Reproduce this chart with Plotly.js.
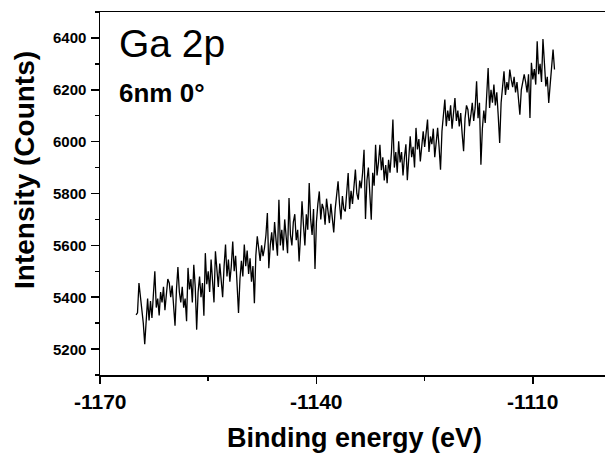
<!DOCTYPE html>
<html>
<head>
<meta charset="utf-8">
<script src="https://cdn.plot.ly/plotly-3.0.1.min.js"></script>
<style>html,body{margin:0;padding:0;background:#fff;}#chart{width:605px;height:459px;}</style>
</head>
<body>
<div id="chart"></div>
<script>
// Binding energy grid: starts at -1165 eV, 0.2 eV step (291 points)
const X_START = -1165;
const X_STEP = 0.2;

// Intensity (counts)
const intensity = [
  5332, 5340, 5455, 5403, 5370, 5300, 5219, 5330, 5395, 5310,
  5385, 5320, 5410, 5500, 5360, 5395, 5330, 5420, 5380, 5440,
  5350, 5420, 5470, 5455, 5400, 5445, 5360, 5290, 5430, 5516,
  5420, 5380, 5440, 5360, 5395, 5307, 5513, 5430, 5470, 5380,
  5525, 5440, 5275, 5420, 5480, 5400, 5455, 5329, 5570, 5450,
  5500, 5420, 5545, 5470, 5380, 5577, 5490, 5440, 5530, 5470,
  5400, 5520, 5603, 5480, 5545, 5460, 5520, 5615, 5500, 5560,
  5450, 5339, 5470, 5540, 5480, 5603, 5520, 5580, 5490, 5550,
  5460, 5520, 5377, 5560, 5635, 5580, 5540, 5600, 5558, 5590,
  5640, 5725, 5512, 5600, 5650, 5580, 5690, 5620, 5560, 5776,
  5600, 5660, 5580, 5700, 5630, 5570, 5783, 5640, 5600, 5690,
  5720, 5620, 5660, 5538, 5640, 5770, 5680, 5600, 5720, 5660,
  5840, 5700, 5640, 5740, 5509, 5690, 5760, 5808, 5700, 5760,
  5740, 5680, 5780, 5720, 5686, 5760, 5700, 5650, 5740, 5790,
  5847, 5760, 5700, 5790, 5740, 5731, 5800, 5879, 5740, 5810,
  5760, 5840, 5892, 5800, 5776, 5850, 5820, 5880, 5969, 5702,
  5850, 5900, 5820, 5699, 5880, 5830, 5988, 5870, 5920, 5988,
  5890, 5940, 5850, 5910, 5840, 5930, 5880, 5960, 6085, 5900,
  5960, 5880, 6001, 5920, 5960, 5870, 5940, 5990, 5851, 5920,
  6021, 5940, 5980, 5900, 6053, 5970, 6010, 5924, 5990, 6040,
  5980, 6030, 6085, 5960, 6020, 5990, 6050, 5940, 6010, 6053,
  5980, 5892, 6040, 6110, 6162, 6060, 6120, 6080, 6140, 6050,
  6100, 6168, 6080, 6120, 6059, 6110, 6030, 5963, 6090, 6140,
  6123, 6060, 6100, 6150, 6080, 6130, 6233, 6090, 6150, 5911,
  6050, 6120, 6072, 6160, 6284, 6130, 6200, 6150, 6220, 6140,
  6190, 6100, 5995, 6150, 6210, 6271, 6180, 6230, 6200, 6278,
  6240, 6210, 6250, 6190, 6230, 6170, 6104, 6200, 6230, 6259,
  6230, 6190, 6260, 6091, 6304, 6240, 6280, 6220, 6387, 6260,
  6300, 6230, 6396, 6290, 6213, 6250, 6149, 6220, 6280, 6355,
  6278
];

const xTickVals = [-1170, -1140, -1110];
const xTickText = ['-1170', '-1140', '-1110'];
const yTickVals = [5200, 5400, 5600, 5800, 6000, 6200, 6400];
const yTickText = ['5200', '5400', '5600', '5800', '6000', '6200', '6400'];

const FONT = 'Arial, Liberation Sans, Helvetica, sans-serif';

const trace = {
  type: 'scatter',
  mode: 'lines',
  x0: X_START,
  dx: X_STEP,
  y: intensity,
  line: {color: '#000000', width: 1.3},
  hoverinfo: 'skip'
};

// bold tick labels, placed on the axes' own tick values
const xTickLabels = xTickVals.map((v, i) => ({
  text: '<b>' + xTickText[i] + '</b>', xref: 'x', yref: 'paper',
  x: v, y: -0.072, xanchor: 'center', yanchor: 'middle', showarrow: false,
  font: {family: FONT, size: 21, color: '#000'}
}));
const yTickLabels = yTickVals.map((v, i) => ({
  text: '<b>' + yTickText[i] + '</b>', xref: 'paper', yref: 'y',
  x: -0.0228, y: v, xanchor: 'right', yanchor: 'middle', showarrow: false,
  font: {family: FONT, size: 15, color: '#000'}
}));

const layout = {
  width: 605,
  height: 459,
  margin: {l: 100, r: 0, t: 12, b: 84},
  paper_bgcolor: '#ffffff',
  plot_bgcolor: '#ffffff',
  showlegend: false,
  font: {family: FONT, color: '#000'},
  xaxis: {
    range: [-1170, -1100],
    tickmode: 'array',
    tickvals: xTickVals,
    showticklabels: false,
    ticks: 'outside',
    ticklen: 7,
    tickwidth: 1.5,
    tickcolor: '#000',
    minor: {dtick: 15, tick0: -1170, ticks: 'outside', ticklen: 4, tickwidth: 1.5, tickcolor: '#000'},
    showline: true,
    linecolor: '#000',
    linewidth: 1.5,
    mirror: true,
    showgrid: false,
    zeroline: false
  },
  yaxis: {
    range: [5100, 6500],
    tickmode: 'array',
    tickvals: yTickVals,
    showticklabels: false,
    ticks: 'outside',
    ticklen: 8,
    tickwidth: 1.5,
    tickcolor: '#000',
    minor: {dtick: 100, tick0: 5100, ticks: 'outside', ticklen: 4, tickwidth: 1.5, tickcolor: '#000'},
    showline: true,
    linecolor: '#000',
    linewidth: 1.5,
    showgrid: false,
    zeroline: false
  },
  annotations: xTickLabels.concat(yTickLabels, [
    {
      text: '<b>Binding energy (eV)</b>', xref: 'paper', yref: 'paper',
      x: 0.504, y: -0.1736, xanchor: 'center', yanchor: 'middle', showarrow: false,
      font: {family: FONT, size: 27, color: '#000'}
    },
    {
      text: '<b>Intensity (Counts)</b>', xref: 'paper', yref: 'paper',
      x: -0.1485, y: 0.565, xanchor: 'center', yanchor: 'middle', showarrow: false,
      textangle: -90,
      font: {family: FONT, size: 28, color: '#000'}
    },
    {
      text: 'Ga 2p', xref: 'paper', yref: 'paper',
      x: 0.034, y: 0.9146, xanchor: 'left', yanchor: 'middle', showarrow: false,
      font: {family: FONT, size: 39, color: '#000'}
    },
    {
      text: '<b>6nm 0°</b>', xref: 'paper', yref: 'paper',
      x: 0.034, y: 0.777, xanchor: 'left', yanchor: 'middle', showarrow: false,
      font: {family: FONT, size: 26, color: '#000'}
    }
  ])
};

Plotly.newPlot('chart', [trace], layout, {displayModeBar: false, staticPlot: true});
</script>
</body>
</html>
